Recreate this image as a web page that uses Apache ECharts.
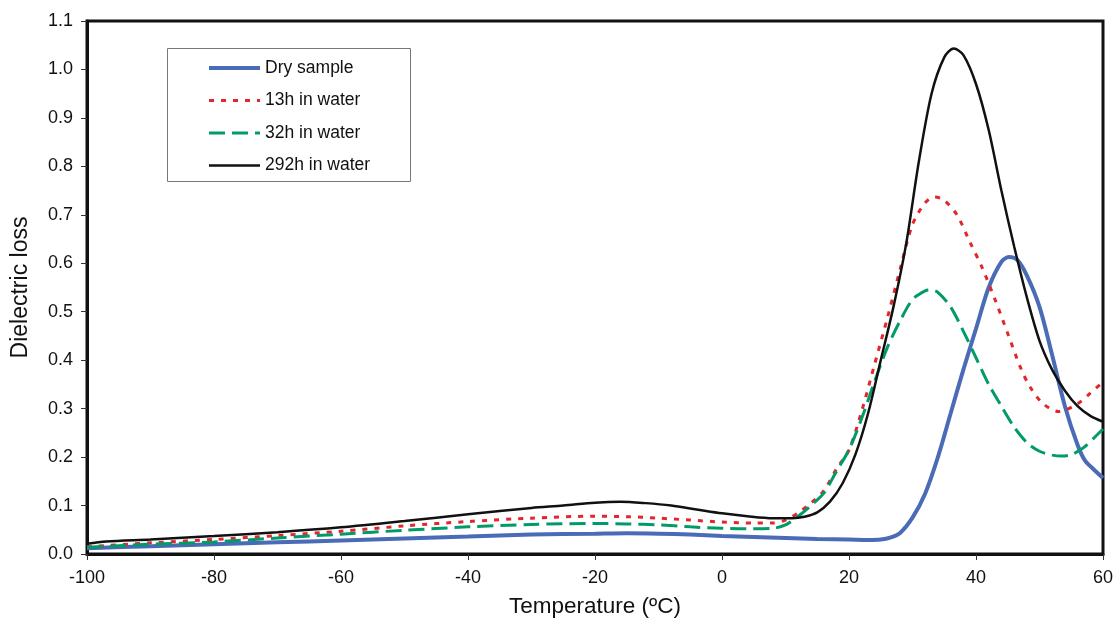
<!DOCTYPE html>
<html>
<head>
<meta charset="utf-8">
<script src="https://cdn.jsdelivr.net/npm/echarts@6/dist/echarts.min.js"></script>
<style>html,body{margin:0;padding:0;background:#fff;}#c{width:1116px;height:618px;}</style>
</head>
<body>
<div id="c"></div>
<script>
const seriesNames = ['Dry sample', '13h in water', '32h in water', '292h in water'];

const dryT = [-100,-90,-80,-70,-60,-50,-40,-30,-20,-15,-10,-5,0,5,10,15,20,23,25,26.5,28,30,32,34,36,38,40,42,44,45.2,46.5,48,50,52,54,56,57.2,58.5,60];
const dryY = [0.012,0.016,0.020,0.024,0.028,0.032,0.036,0.040,0.042,0.043,0.042,0.040,0.037,0.035,0.033,0.031,0.030,0.029,0.030,0.034,0.043,0.075,0.125,0.200,0.290,0.380,0.465,0.550,0.603,0.613,0.607,0.575,0.510,0.410,0.305,0.225,0.192,0.175,0.157];

const h13T = [-100,-90,-80,-70,-60,-50,-40,-30,-20,-15,-10,-5,0,5,8,10,12,14,16,18,20,22,24,26,28,30,32,33.5,35,37,39,41,43,45,47,48.5,50.5,53,56,58,60];
const h13Y = [0.015,0.023,0.030,0.038,0.047,0.058,0.067,0.074,0.078,0.077,0.074,0.070,0.066,0.064,0.064,0.070,0.085,0.105,0.130,0.175,0.215,0.295,0.390,0.485,0.585,0.680,0.725,0.737,0.730,0.700,0.645,0.590,0.525,0.455,0.385,0.345,0.311,0.294,0.310,0.332,0.355];

const h32T = [-100,-90,-80,-70,-60,-50,-40,-30,-20,-15,-10,-5,0,5,8,10,12,14,16,18,20,22,24,26,28,30,32,33,34,36,38,40,42,44,46,48,50,52,53.5,55,57,59,60];
const h32Y = [0.014,0.020,0.025,0.033,0.041,0.049,0.056,0.061,0.063,0.062,0.060,0.056,0.053,0.052,0.053,0.060,0.078,0.100,0.125,0.170,0.215,0.280,0.355,0.425,0.480,0.525,0.543,0.545,0.540,0.510,0.460,0.405,0.350,0.305,0.262,0.230,0.212,0.204,0.202,0.205,0.220,0.245,0.258];

const h292T = [-100,-97,-90,-80,-70,-60,-50,-40,-30,-25,-20,-16,-12,-8,-4,0,4,8,11,13,15,17,19,21,23,25,27,29,31,33,35,36.5,38,40,42,44,46,48,50,52,54,56,58,60];
const h292Y = [0.021,0.026,0.030,0.037,0.045,0.055,0.068,0.082,0.095,0.100,0.106,0.108,0.105,0.100,0.092,0.084,0.078,0.074,0.074,0.077,0.086,0.108,0.146,0.205,0.290,0.400,0.510,0.640,0.810,0.950,1.025,1.043,1.030,0.970,0.875,0.750,0.635,0.530,0.440,0.380,0.337,0.305,0.285,0.273];

const xTitle = 'Temperature (ºC)';
const yTitle = 'Dielectric loss';

function pairs(t, y) { return t.map((v, i) => [v, y[i]]); }

const FONT = 'Liberation Sans, Arial, sans-serif';
const chart = echarts.init(document.getElementById('c'), null, {renderer: 'canvas'});

const common = {type: 'line', symbol: 'none', showSymbol: false, smooth: 0.3, animation: false};

chart.setOption({
  backgroundColor: '#fff',
  animation: false,
  grid: {left: 87, right: 13, top: 21, bottom: 64, show: true, borderColor: '#111', borderWidth: 3,
    backgroundColor: 'transparent', containLabel: false, outerBoundsMode: 'none'},
  graphic: [{
    type: 'rect', left: 167, top: 48, z: 50,
    shape: {width: 243, height: 133},
    style: {fill: '#fff', stroke: '#777', lineWidth: 1}
  }],
  legend: {
    left: 202, top: 54, orient: 'vertical', z: 60,
    itemWidth: 51, itemHeight: 16, itemGap: 14.5,
    itemStyle: {opacity: 0},
    lineStyle: {width: 'inherit'},
    textStyle: {fontFamily: FONT, fontSize: 17.5, color: '#111', lineHeight: 18},
    data: seriesNames
  },
  xAxis: {
    type: 'value', min: -100, max: 60, interval: 20,
    name: xTitle, nameLocation: 'middle', nameGap: 41,
    nameTextStyle: {fontFamily: FONT, fontSize: 22.5, color: '#111'},
    axisLine: {show: true, onZero: false, lineStyle: {color: '#111', width: 3}},
    axisTick: {show: true, inside: false, length: 6, lineStyle: {color: '#333', width: 1}},
    axisLabel: {fontFamily: FONT, fontSize: 18, color: '#111', margin: 15},
    splitLine: {show: false}
  },
  yAxis: {
    type: 'value', min: 0, max: 1.1, interval: 0.1,
    name: yTitle, nameLocation: 'middle', nameGap: 55,
    nameTextStyle: {fontFamily: FONT, fontSize: 23, color: '#111'},
    axisLine: {show: true, onZero: false, lineStyle: {color: '#111', width: 3}},
    axisTick: {show: true, inside: false, length: 6, lineStyle: {color: '#333', width: 1}},
    axisLabel: {fontFamily: FONT, fontSize: 18, color: '#111', margin: 14, formatter: v => v.toFixed(1)},
    splitLine: {show: false}
  },
  series: [
    Object.assign({}, common, {name: seriesNames[0], data: pairs(dryT, dryY), color: '#4a6bb5',
      lineStyle: {color: '#4a6bb5', width: 4, type: 'solid'}}),
    Object.assign({}, common, {name: seriesNames[1], data: pairs(h13T, h13Y), color: '#e3262b',
      lineStyle: {color: '#e3262b', width: 3, type: [5, 7]}}),
    Object.assign({}, common, {name: seriesNames[2], data: pairs(h32T, h32Y), color: '#009b66',
      lineStyle: {color: '#009b66', width: 3, type: [16, 7]}}),
    Object.assign({}, common, {name: seriesNames[3], data: pairs(h292T, h292Y), color: '#111',
      lineStyle: {color: '#111', width: 2.5, type: 'solid'}})
  ]
});
</script>
</body>
</html>
